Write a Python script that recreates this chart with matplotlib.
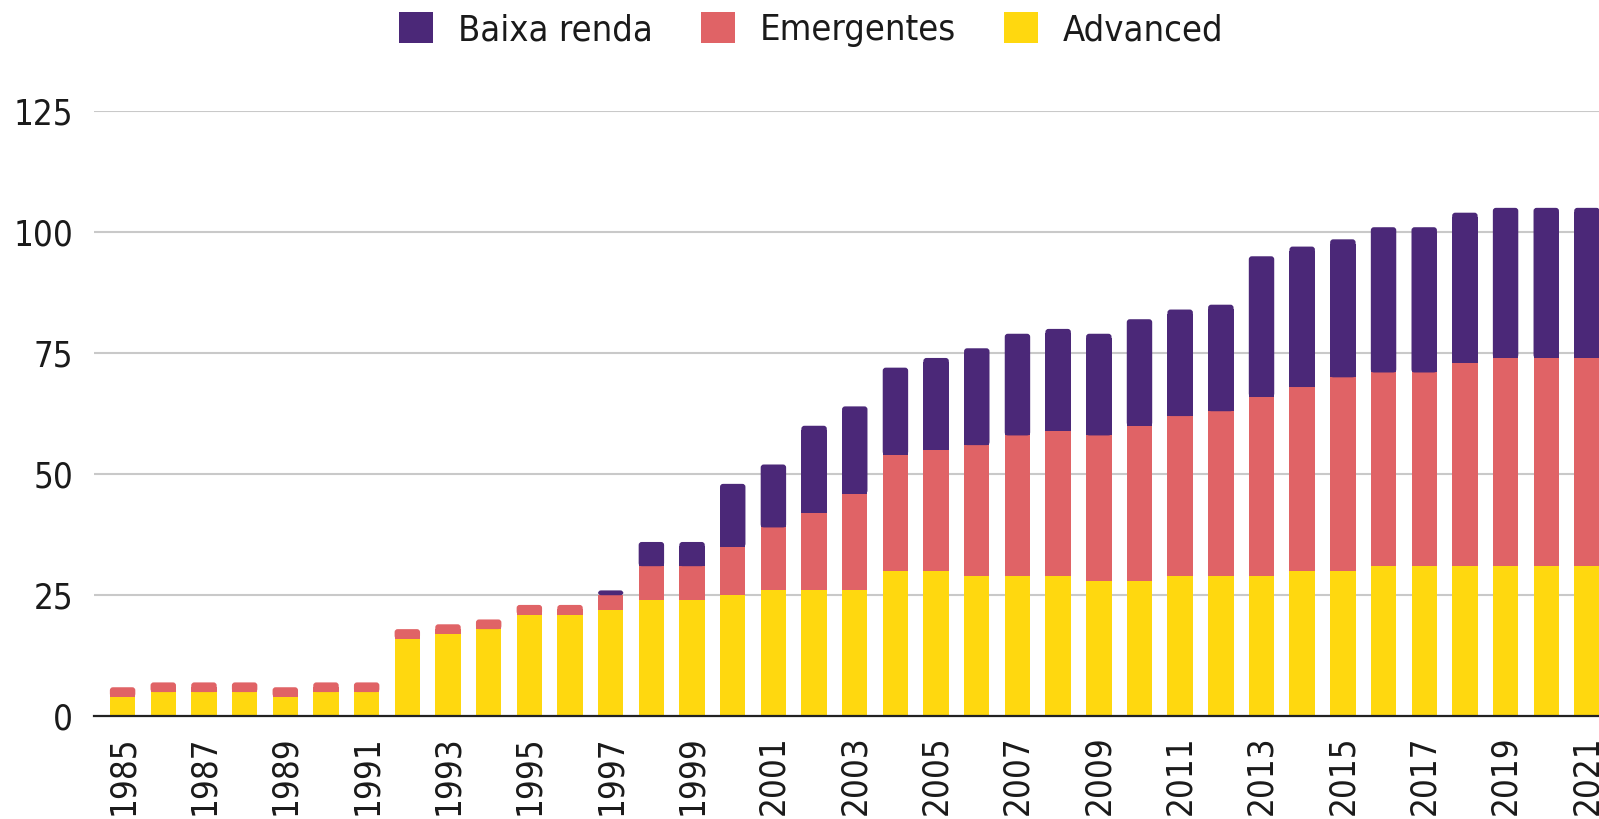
import matplotlib
matplotlib.use("Agg")
import matplotlib.pyplot as plt
from matplotlib.patches import FancyBboxPatch, Rectangle, Patch
import numpy as np

years = list(range(1985, 2022))
advanced = [4, 5, 5, 5, 4, 5, 5, 16, 17, 18, 21, 21, 22, 24, 24, 25, 26, 26, 26, 30,
            30, 29, 29, 29, 28, 28, 29, 29, 29, 30, 30, 31, 31, 31, 31, 31, 31]
emergentes = [2, 2, 2, 2, 2, 2, 2, 2, 2, 2, 2, 2, 3, 7, 7, 10, 13, 16, 20, 24,
              25, 27, 29, 30, 30, 32, 33, 34, 37, 38, 40, 40, 40, 42, 43, 43, 43]
baixa_renda = [0, 0, 0, 0, 0, 0, 0, 0, 0, 0, 0, 0, 1, 5, 5, 13, 13, 18, 18, 18,
               19, 20, 21, 21, 21, 22, 22, 22, 29, 29, 28.5, 30, 30, 31, 31, 31, 31]
series_names = ["Baixa renda", "Emergentes", "Advanced"]
colors = {"Baixa renda": "#4B2878", "Emergentes": "#E06366", "Advanced": "#FFD80F"}
yticks = [0, 25, 50, 75, 100, 125]
xtick_years = list(range(1985, 2022, 2))

plt.rcParams['font.family'] = ['DejaVu Sans']
plt.rcParams['font.stretch'] = 'condensed'

fig = plt.figure(figsize=(15.99, 8.19), dpi=100)
ax = fig.add_axes([94/1599, 1-716.3/819, (1599-94)/1599, (716.3-111)/819])

x = np.array(years)
adv = np.array(advanced, dtype=float)
em = np.array(emergentes, dtype=float)
lo = np.array(baixa_renda, dtype=float)
w = 0.625

b_adv = ax.bar(x, adv, width=w, color=colors["Advanced"], linewidth=0, zorder=2)
b_em = ax.bar(x, em, width=w, bottom=adv, color=colors["Emergentes"], linewidth=0, zorder=2)
b_lo = ax.bar(x, lo, width=w, bottom=adv + em, color=colors["Baixa renda"], linewidth=0, zorder=2)

ax.set_xlim(1984.297, 2021.297)
ax.set_ylim(0, 125)

# rounded top corners on the topmost segment of each stack
rx = 0.075          # corner radius in x data units
ry = 0.62           # corner radius in y data units
for i in range(len(years)):
    if lo[i] > 0:
        rect, col = b_lo.patches[i], colors["Baixa renda"]
    else:
        rect, col = b_em.patches[i], colors["Emergentes"]
    x0, y0 = rect.get_x(), rect.get_y()
    bw, bh = rect.get_width(), rect.get_height()
    rect.set_visible(False)
    ax.add_patch(FancyBboxPatch((x0, y0), bw, bh,
                                boxstyle=f"round,pad=0,rounding_size={rx}",
                                mutation_aspect=ry / rx, facecolor=col,
                                linewidth=0, zorder=2))
    ax.add_patch(Rectangle((x0, y0), bw, max(bh - ry * 1.5, 0), facecolor=col,
                           linewidth=0, zorder=2))

ax.set_yticks(yticks)
ax.set_yticklabels([str(v) for v in yticks])
ax.set_xticks(xtick_years)
ax.set_xticklabels([str(y) for y in xtick_years], rotation=90)

for v in yticks[1:]:
    ax.axhline(v, color="#C9C9C9", linewidth=1.5, zorder=1)

for s in ["top", "right", "left"]:
    ax.spines[s].set_visible(False)
ax.spines["bottom"].set_color("#222222")
ax.spines["bottom"].set_linewidth(1.6)
ax.spines["bottom"].set_zorder(3)

ax.tick_params(axis="y", length=0, pad=15, labelsize=25, labelcolor="#1a1a1a")
ax.tick_params(axis="x", length=0, pad=13.5, labelsize=25, labelcolor="#1a1a1a")

fs = 26
handles = [Patch(facecolor=colors[n], linewidth=0) for n in series_names]
leg = fig.legend(handles, series_names, loc="center",
                 bbox_to_anchor=(811/1599, 1-29.7/819), ncol=3, frameon=False,
                 fontsize=fs, handlelength=0.94, handleheight=0.94,
                 handletextpad=0.69, columnspacing=1.33, borderpad=0, borderaxespad=0)
for t in leg.get_texts():
    t.set_color("#1a1a1a")

fig.savefig("out.png", dpi=100)
